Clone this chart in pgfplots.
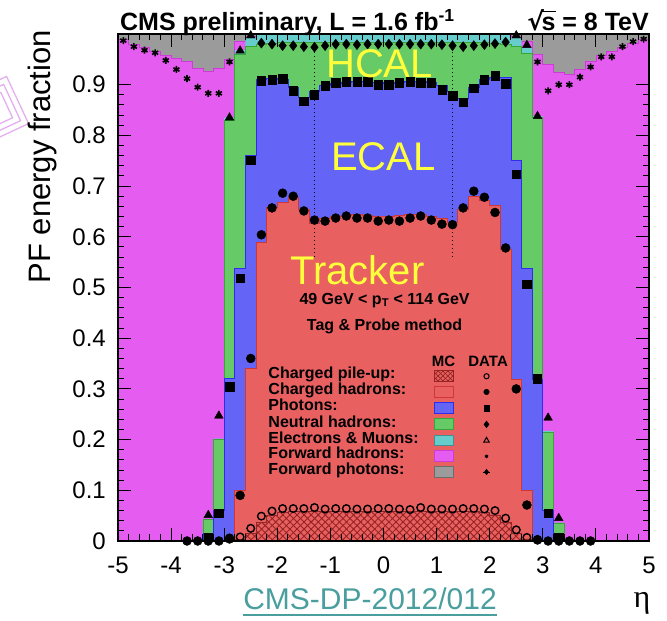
\documentclass[border=0pt]{standalone}
\usepackage{fontspec}
\setmainfont{Liberation Sans}
\newfontfamily\greekserif{Liberation Serif}
\newfontfamily\dejavu{DejaVu Sans}
\usepackage{pgfplots}
\pgfplotsset{compat=1.18}
\usepackage{pgfplotstable}
\usetikzlibrary{patterns.meta}

\definecolor{chRed}{RGB}{232,96,96}
\definecolor{chRedD}{RGB}{205,55,55}
\definecolor{puRed}{RGB}{150,35,35}
\definecolor{phBlue}{RGB}{100,100,246}
\definecolor{phBlueD}{RGB}{45,45,235}
\definecolor{nhGreen}{RGB}{102,202,102}
\definecolor{nhGreenD}{RGB}{55,165,55}
\definecolor{elCyan}{RGB}{102,204,204}
\definecolor{fhMag}{RGB}{229,92,240}
\definecolor{fhMagD}{RGB}{205,60,215}
\definecolor{fpGray}{RGB}{155,155,155}
\definecolor{calYellow}{RGB}{255,255,60}
\definecolor{dpTeal}{RGB}{74,158,158}
\definecolor{logoPink}{RGB}{228,175,238}

\pgfplotstableread{
x P C G N E F T
-5.0 0 0 0 0 0 0.990 1
-4.8 0 0 0 0 0 0.980 1
-4.6 0 0 0 0 0 0.973 1
-4.4 0 0 0 0 0 0.966 1
-4.2 0 0 0 0 0 0.958 1
-4.0 0 0 0 0 0 0.952 1
-3.8 0 0 0 0 0 0.945 1
-3.6 0 0 0 0 0 0.932 1
-3.4 0 0 0.015 0.042 0.043 0.926 1
-3.2 0 0 0.060 0.200 0.202 0.932 1
-3.0 0.001 0.003 0.320 0.830 0.835 0.950 1
-2.8 0.004 0.100 0.537 0.960 0.968 0.985 1
-2.6 0.016 0.340 0.760 0.975 0.993 0.996 1
-2.4 0.037 0.588 0.910 0.980 0.998 0.998 1
-2.2 0.050 0.658 0.912 0.982 1 1 1
-2.0 0.056 0.668 0.910 0.983 1 1 1
-1.8 0.058 0.678 0.894 0.983 1 1 1
-1.6 0.058 0.655 0.874 0.983 1 1 1
-1.4 0.058 0.626 0.886 0.983 1 1 1
-1.2 0.058 0.636 0.898 0.983 1 1 1
-1.0 0.058 0.640 0.903 0.983 1 1 1
-0.8 0.058 0.643 0.905 0.983 1 1 1
-0.6 0.058 0.644 0.906 0.983 1 1 1
-0.4 0.058 0.643 0.906 0.983 1 1 1
-0.2 0.058 0.641 0.904 0.983 1 1 1
0.0 0.058 0.641 0.903 0.983 1 1 1
0.2 0.058 0.642 0.904 0.983 1 1 1
0.4 0.058 0.644 0.906 0.983 1 1 1
0.6 0.058 0.644 0.906 0.983 1 1 1
0.8 0.058 0.641 0.904 0.983 1 1 1
1.0 0.058 0.637 0.898 0.983 1 1 1
1.2 0.058 0.628 0.886 0.983 1 1 1
1.4 0.058 0.655 0.873 0.983 1 1 1
1.6 0.058 0.679 0.894 0.983 1 1 1
1.8 0.057 0.672 0.910 0.983 1 1 1
2.0 0.051 0.662 0.915 0.982 1 1 1
2.2 0.037 0.575 0.915 0.980 0.998 0.998 1
2.4 0.016 0.318 0.750 0.975 0.993 0.996 1
2.6 0.004 0.100 0.538 0.962 0.972 0.985 1
2.8 0.001 0.003 0.318 0.835 0.838 0.960 1
3.0 0 0 0.061 0.215 0.217 0.940 1
3.2 0 0 0.008 0.035 0.036 0.925 1
3.4 0 0 0 0 0 0.920 1
3.6 0 0 0 0 0 0.930 1
3.8 0 0 0 0 0 0.945 1
4.0 0 0 0 0 0 0.958 1
4.2 0 0 0 0 0 0.965 1
4.4 0 0 0 0 0 0.973 1
4.6 0 0 0 0 0 0.982 1
4.8 0 0 0 0 0 0.990 1
5.0 0 0 0 0 0 0.990 1
}\mc

\begin{document}
\begin{tikzpicture}
\path[use as bounding box] (-118pt,-80pt) rectangle (549pt,541pt);
% faint logo fragment at the left edge
\begin{scope}[shift={(-124pt,430pt)}, rotate=25, logoPink, line width=1.3pt]
\draw (-26pt,-26pt) rectangle (26pt,26pt);
\draw (-20pt,-20pt) rectangle (20pt,20pt);
\draw (-14pt,-14pt) rectangle (14pt,14pt);
\end{scope}
\begin{axis}[
  at={(0pt,0pt)}, anchor=south west,
  scale only axis, width=531pt, height=507pt,
  xmin=-5, xmax=5, ymin=0, ymax=1,
  enlargelimits=false,
  xtick={-5,-4,-3,-2,-1,0,1,2,3,4,5},
  xticklabels={-5,-4,-3,-2,-1,0,1,2,3,4,5},
  ytick={0,0.1,0.2,0.3,0.4,0.5,0.6,0.7,0.8,0.9},
  yticklabels={0,0.1,0.2,0.3,0.4,0.5,0.6,0.7,0.8,0.9},
  minor x tick num=4, minor y tick num=4,
  tick align=inside, tick pos=both,
  major tick length=13pt, minor tick length=6.5pt,
  axis line style={line width=1.3pt},
  tick style={black, line width=1pt},
  ticklabel style={font=\fontsize{24}{24}\selectfont, inner sep=0pt},
  xticklabel style={yshift=-16pt},
  yticklabel style={xshift=-12pt},
  ylabel={PF energy fraction},
  ylabel style={font=\fontsize{31}{31}\selectfont, inner sep=0pt, at={(axis description cs:-0.128,1.008)}, anchor=base east},
  axis on top,
  clip mode=individual,
]
% MC stack (cumulative tops, drawn from top layer down)
\addplot[const plot, fill=fpGray, draw=none] table[x=x,y=T] {\mc} \closedcycle;
\addplot[const plot, fill=fhMag, draw=fhMagD, line width=0.8pt] table[x=x,y=F] {\mc} \closedcycle;
\addplot[const plot, fill=elCyan, draw=none] table[x=x,y=E] {\mc} \closedcycle;
\addplot[const plot, fill=nhGreen, draw=nhGreenD, line width=0.8pt] table[x=x,y=N] {\mc} \closedcycle;
\addplot[const plot, fill=phBlue, draw=phBlueD, line width=0.8pt] table[x=x,y=G] {\mc} \closedcycle;
\addplot[const plot, fill=chRed, draw=chRedD, line width=0.8pt] table[x=x,y=C] {\mc} \closedcycle;
\addplot[const plot, draw=puRed, line width=0.6pt, pattern={Lines[angle=45,distance=5pt,line width=0.9pt]}, pattern color=puRed] table[x=x,y=P] {\mc} \closedcycle;
\addplot[const plot, draw=puRed, line width=0.6pt, pattern={Lines[angle=-45,distance=5pt,line width=0.9pt]}, pattern color=puRed] table[x=x,y=P] {\mc} \closedcycle;

% dotted barrel/endcap lines
\addplot[black, line width=1.2pt, dash pattern=on 1.5pt off 2.5pt] coordinates {(-1.3,0.56) (-1.3,0.975)};
\addplot[black, line width=1.2pt, dash pattern=on 1.5pt off 2.5pt] coordinates {(1.3,0.56) (1.3,0.975)};

% DATA: charged pile-up (open circles)
\addplot[only marks, mark=o, mark size=3.8pt, mark options={black, line width=1.4pt}] coordinates {
(-2.9,0.006) (-2.7,0.008) (-2.5,0.025) (-2.3,0.049) (-2.1,0.059) (-1.9,0.064) (-1.7,0.064)
(-1.5,0.064) (-1.3,0.066) (-1.1,0.063) (-0.9,0.064) (-0.7,0.064) (-0.5,0.063) (-0.3,0.063)
(-0.1,0.064) (0.1,0.064) (0.3,0.063) (0.5,0.062) (0.7,0.066) (0.9,0.063) (1.1,0.063)
(1.3,0.063) (1.5,0.064) (1.7,0.064) (1.9,0.063) (2.1,0.060) (2.3,0.045) (2.5,0.022)
(2.7,0.007) (2.9,0.003)};
% DATA: charged hadrons (filled circles)
\addplot[only marks, mark=*, mark size=4.5pt, mark options={black}] coordinates {
(-3.7,0) (-3.5,0) (-3.3,0) (-3.1,0) (-2.9,0.004) (-2.7,0.090) (-2.5,0.360) (-2.3,0.604)
(-2.1,0.657) (-1.9,0.686) (-1.7,0.680) (-1.5,0.651) (-1.3,0.633) (-1.1,0.631) (-0.9,0.637)
(-0.7,0.641) (-0.5,0.637) (-0.3,0.637) (-0.1,0.631) (0.1,0.633) (0.3,0.631) (0.5,0.637)
(0.7,0.641) (0.9,0.633) (1.1,0.625) (1.3,0.624) (1.5,0.657) (1.7,0.690) (1.9,0.678)
(2.1,0.648) (2.3,0.578) (2.5,0.300) (2.7,0.071) (2.9,0.002) (3.1,0) (3.3,0) (3.5,0)
(3.7,0) (3.9,0)};
% DATA: photons (squares)
\addplot[only marks, mark=square*, mark size=4.2pt, mark options={black}] coordinates {
(-3.3,0.008) (-3.1,0.055) (-2.9,0.304) (-2.7,0.518) (-2.5,0.751) (-2.3,0.908) (-2.1,0.910)
(-1.9,0.912) (-1.7,0.888) (-1.5,0.867) (-1.3,0.880) (-1.1,0.898) (-0.9,0.904) (-0.7,0.906)
(-0.5,0.906) (-0.3,0.906) (-0.1,0.900) (0.1,0.900) (0.3,0.904) (0.5,0.906) (0.7,0.904)
(0.9,0.904) (1.1,0.890) (1.3,0.878) (1.5,0.865) (1.7,0.893) (1.9,0.910) (2.1,0.918)
(2.3,0.902) (2.5,0.724) (2.7,0.507) (2.9,0.320) (3.1,0.055) (3.3,0.007)};
% DATA: neutral hadrons (diamonds)
\addplot[only marks, mark=diamond*, mark size=5pt, mark options={black}] coordinates {
(-2.3,0.982) (-2.1,0.980) (-1.9,0.977) (-1.7,0.977) (-1.5,0.975) (-1.3,0.974) (-1.1,0.977)
(-0.9,0.980) (-0.7,0.980) (-0.5,0.979) (-0.3,0.980) (-0.1,0.980) (0.1,0.980) (0.3,0.980)
(0.5,0.980) (0.7,0.980) (0.9,0.980) (1.1,0.979) (1.3,0.977) (1.5,0.975) (1.7,0.977)
(1.9,0.979) (2.1,0.981) (2.3,0.984)};
% DATA: electrons & muons (triangles)
\addplot[only marks, mark=triangle*, mark size=5pt, mark options={black}] coordinates {
(-3.3,0.051) (-3.1,0.247) (-2.9,0.835) (-2.7,0.967) (-2.5,0.997)
(2.5,0.997) (2.7,0.978) (2.9,0.838) (3.1,0.243) (3.3,0.045)};
% DATA: forward hadrons (stars)
\addplot[only marks, mark=asterisk, mark size=3.5pt, mark options={black, line width=1.6pt}] coordinates {
(-4.9,0.987) (-4.7,0.975) (-4.5,0.968) (-4.3,0.963) (-4.1,0.948) (-3.9,0.930) (-3.7,0.912)
(-3.5,0.895) (-3.3,0.883) (-3.1,0.883) (-2.9,0.945)
(2.9,0.945) (3.1,0.888) (3.3,0.900) (3.5,0.900) (3.7,0.915) (3.9,0.935) (4.1,0.955)
(4.3,0.955) (4.5,0.975) (4.7,0.985) (4.9,0.990)};

% detector labels
\node[text=calYellow, font=\fontsize{40}{40}\selectfont, inner sep=0pt] at (axis cs:-0.075,0.941) {HCAL};
\node[text=calYellow, font=\fontsize{40}{40}\selectfont, inner sep=0pt] at (axis cs:0,0.757) {ECAL};
\node[text=calYellow, font=\fontsize{40}{40}\selectfont, inner sep=0pt] at (axis cs:-0.49,0.535) {Tracker};

\node[font=\bfseries\fontsize{16}{16}\selectfont, inner sep=0pt] at (axis cs:0.02,0.475) {49 GeV < p\textsubscript{T} < 114 GeV};
\node[font=\bfseries\fontsize{16}{16}\selectfont, inner sep=0pt] at (axis cs:0.02,0.424) {Tag \& Probe method};

% legend
\node[font=\bfseries\fontsize{15}{15}\selectfont, inner sep=0pt] at (axis cs:1.13,0.355) {MC};
\node[font=\bfseries\fontsize{15}{15}\selectfont, inner sep=0pt] at (axis cs:1.97,0.355) {DATA};
\begin{scope}[font=\bfseries\fontsize{16}{16}\selectfont]
\node[anchor=mid west, inner sep=0pt] at (axis cs:-2.17,0.325) {Charged pile-up:};
\node[anchor=mid west, inner sep=0pt] at (axis cs:-2.17,0.294) {Charged hadrons:};
\node[anchor=mid west, inner sep=0pt] at (axis cs:-2.17,0.262) {Photons:};
\node[anchor=mid west, inner sep=0pt] at (axis cs:-2.17,0.230) {Neutral hadrons:};
\node[anchor=mid west, inner sep=0pt] at (axis cs:-2.17,0.198) {Electrons \& Muons:};
\node[anchor=mid west, inner sep=0pt] at (axis cs:-2.17,0.167) {Forward hadrons:};
\node[anchor=mid west, inner sep=0pt] at (axis cs:-2.17,0.136) {Forward photons:};
\end{scope}
\filldraw[fill=chRed, draw=puRed, line width=0.8pt] (axis cs:0.96,0.315) rectangle (axis cs:1.32,0.336);
\fill[pattern={Lines[angle=45,distance=3.5pt,line width=0.7pt]}, pattern color=puRed] (axis cs:0.96,0.315) rectangle (axis cs:1.32,0.336);
\fill[pattern={Lines[angle=-45,distance=3.5pt,line width=0.7pt]}, pattern color=puRed] (axis cs:0.96,0.315) rectangle (axis cs:1.32,0.336);
\filldraw[fill=chRed, draw=chRedD, line width=0.8pt] (axis cs:0.96,0.284) rectangle (axis cs:1.32,0.305);
\filldraw[fill=phBlue, draw=phBlueD, line width=0.8pt] (axis cs:0.96,0.252) rectangle (axis cs:1.32,0.273);
\filldraw[fill=nhGreen, draw=nhGreenD, line width=0.8pt] (axis cs:0.96,0.220) rectangle (axis cs:1.32,0.241);
\filldraw[fill=elCyan, draw=elCyan!70!black, line width=0.8pt] (axis cs:0.96,0.188) rectangle (axis cs:1.32,0.209);
\filldraw[fill=fhMag, draw=fhMagD, line width=0.8pt] (axis cs:0.96,0.157) rectangle (axis cs:1.32,0.178);
\filldraw[fill=fpGray, draw=fpGray!70!black, line width=0.8pt] (axis cs:0.96,0.126) rectangle (axis cs:1.32,0.147);
\addplot[only marks, mark=o, mark size=2.6pt, mark options={black, line width=1pt}] coordinates {(1.94,0.325)};
\addplot[only marks, mark=*, mark size=2.8pt, mark options={black}] coordinates {(1.94,0.294)};
\addplot[only marks, mark=square*, mark size=2.8pt, mark options={black}] coordinates {(1.94,0.262)};
\addplot[only marks, mark=diamond*, mark size=3.4pt, mark options={black}] coordinates {(1.94,0.230)};
\addplot[only marks, mark=triangle, mark size=3.2pt, mark options={black, line width=1pt}] coordinates {(1.94,0.198)};
\addplot[only marks, mark=asterisk, mark size=1.8pt, mark options={black, line width=1pt}] coordinates {(1.94,0.167)};
\addplot[only marks, mark=diamond*, mark size=2.8pt, mark options={black}] coordinates {(1.94,0.136)};
\addplot[only marks, mark=+, mark size=3.4pt, mark options={black, line width=1pt}] coordinates {(1.94,0.136)};
\end{axis}

% title and captions
\node[anchor=base west, inner sep=0pt, font=\bfseries\fontsize{25}{25}\selectfont] at (2pt,510pt) {CMS preliminary, L = 1.6 fb\textsuperscript{-1}};
\node[anchor=base east, inner sep=0pt, font=\bfseries\fontsize{25}{25}\selectfont] at (531pt,510pt) {{\dejavu\bfseries √}\kern-0.1em\rlap{\rule[0.74em]{0.56em}{0.075em}}s = 8 TeV};
\node[anchor=base, inner sep=0pt, text=dpTeal, font=\fontsize{30}{30}\selectfont] (dp) at (252pt,-69pt) {CMS-DP-2012/012};
\draw[dpTeal, line width=2pt] ([yshift=-5.5pt]dp.base west) -- ([yshift=-5.5pt]dp.base east);
\node[anchor=base, inner sep=0pt, font=\greekserif\fontsize{32}{32}\selectfont] at (524pt,-67pt) {η};
\end{tikzpicture}
\end{document}
